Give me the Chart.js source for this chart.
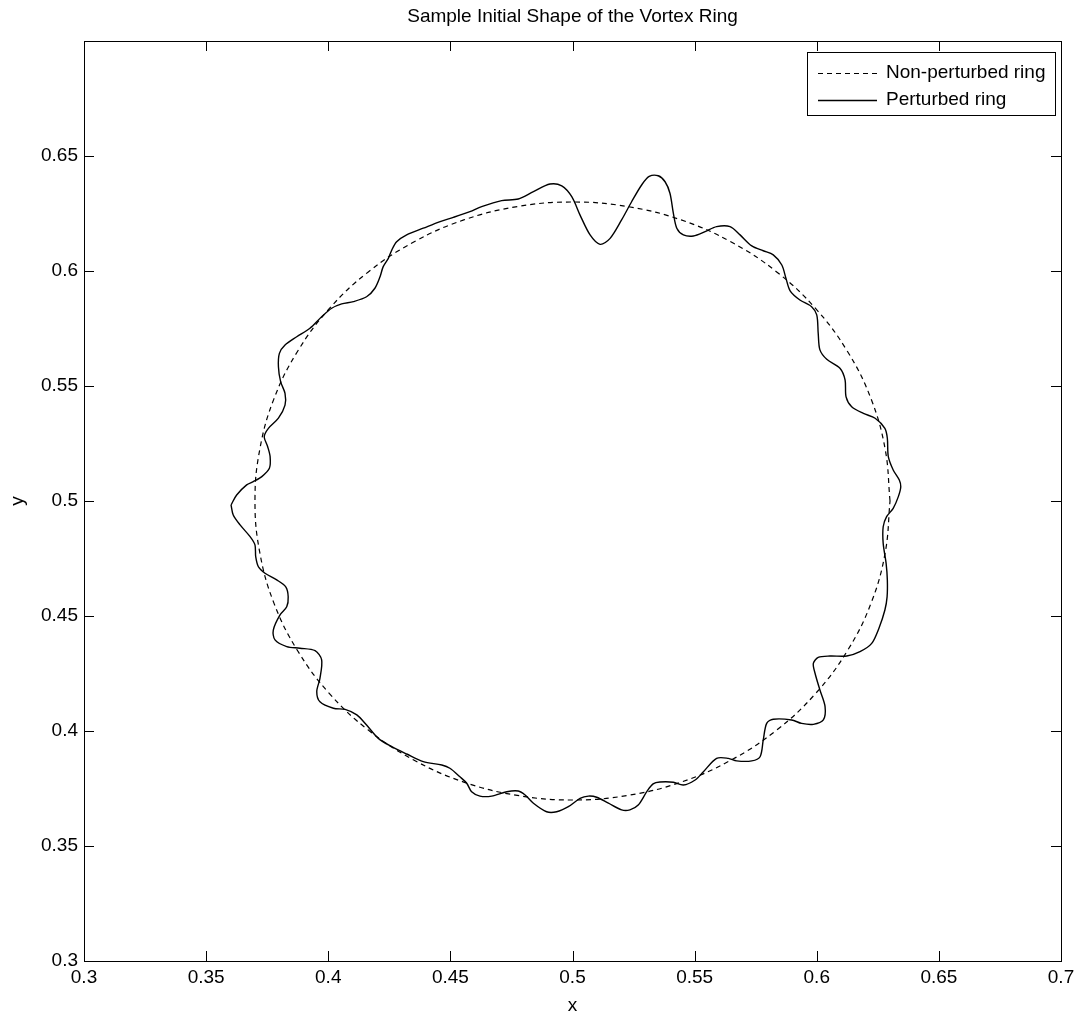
<!DOCTYPE html>
<html>
<head>
<meta charset="utf-8">
<title>Sample Initial Shape of the Vortex Ring</title>
<script src="https://cdn.jsdelivr.net/npm/chart.js@4.4.1/dist/chart.umd.min.js"></script>
<style>
  body { margin: 0; background: #fff; }
</style>
</head>
<body>
<canvas id="ringChart" width="1085" height="1017"></canvas>
<script>
// unperturbed ring, centre (0.5, 0.5), radius 0.13, every 10 degrees
var ringX = [0.63, 0.628, 0.6222, 0.6126, 0.5996, 0.5836, 0.565, 0.5445, 0.5226, 0.5,
             0.4774, 0.4555, 0.435, 0.4164, 0.4004, 0.3874, 0.3778, 0.372, 0.37,
             0.372, 0.3778, 0.3874, 0.4004, 0.4164, 0.435, 0.4555, 0.4774, 0.5,
             0.5226, 0.5445, 0.565, 0.5836, 0.5996, 0.6126, 0.6222, 0.628, 0.63];
var ringY = [0.5, 0.5226, 0.5445, 0.565, 0.5836, 0.5996, 0.6126, 0.6222, 0.628, 0.63,
             0.628, 0.6222, 0.6126, 0.5996, 0.5836, 0.565, 0.5445, 0.5226, 0.5,
             0.4774, 0.4555, 0.435, 0.4164, 0.4004, 0.3874, 0.3778, 0.372, 0.37,
             0.372, 0.3778, 0.3874, 0.4004, 0.4164, 0.435, 0.4555, 0.4774, 0.5];

// perturbed ring, traced clockwise from the leftmost bulge
var perturbedX = [
  0.3602, 0.3625, 0.3666, 0.3693, 0.3728, 0.3759, 0.3762, 0.3752, 0.3738, 0.3755,
  0.3796, 0.3823, 0.3823, 0.3805, 0.3796, 0.3800, 0.3823, 0.3871, 0.3925, 0.3973,
  0.4014, 0.4055, 0.4103, 0.4157, 0.4191, 0.4212, 0.4225, 0.4246, 0.4260, 0.4280,
  0.4321, 0.4389, 0.4458, 0.4512, 0.4580, 0.4628, 0.4710, 0.4778, 0.4840, 0.4908,
  0.4956, 0.4997, 0.5031, 0.5072, 0.5113, 0.5154, 0.5201, 0.5242, 0.5283, 0.5314,
  0.5351, 0.5379, 0.5399, 0.5413, 0.5427, 0.5454, 0.5495, 0.5543, 0.5590, 0.5645,
  0.5686, 0.5734, 0.5781, 0.5822, 0.5857, 0.5874, 0.5891, 0.5931, 0.5979, 0.6000,
  0.6006, 0.6013, 0.6041, 0.6095, 0.6116, 0.6120, 0.6143, 0.6191, 0.6239, 0.6279,
  0.6289, 0.6293, 0.6313, 0.6338, 0.6344, 0.6334, 0.6313, 0.6286, 0.6272, 0.6272,
  0.6284, 0.6289, 0.6288, 0.6279, 0.6255, 0.6225, 0.6177, 0.6123, 0.6054, 0.6006,
  0.5986, 0.5993, 0.6013, 0.6034, 0.6027, 0.5986, 0.5938, 0.5897, 0.5822, 0.5795,
  0.5781, 0.5768, 0.5734, 0.5672, 0.5638, 0.5590, 0.5536, 0.5502, 0.5454, 0.5413,
  0.5358, 0.5330, 0.5304, 0.5269, 0.5235, 0.5201, 0.5147, 0.5099, 0.5065, 0.5031,
  0.4983, 0.4935, 0.4894, 0.4840, 0.4806, 0.4778, 0.4731, 0.4669, 0.4621, 0.4587,
  0.4567, 0.4539, 0.4498, 0.4465, 0.4389, 0.4321, 0.4260, 0.4205, 0.4157, 0.4117,
  0.4069, 0.4021, 0.3966, 0.3953, 0.3966, 0.3973, 0.3946, 0.3884, 0.3830, 0.3782,
  0.3775, 0.3802, 0.3830, 0.3836, 0.3826, 0.3789, 0.3741, 0.3714, 0.3703, 0.3700,
  0.3680, 0.3639, 0.3611, 0.3602];
var perturbedY = [
  0.4983, 0.5026, 0.5070, 0.5084, 0.5106, 0.5142, 0.5193, 0.5236, 0.5280, 0.5316,
  0.5360, 0.5417, 0.5468, 0.5519, 0.5584, 0.5642, 0.5678, 0.5714, 0.5751, 0.5801,
  0.5838, 0.5857, 0.5867, 0.5888, 0.5925, 0.5975, 0.6019, 0.6055, 0.6091, 0.6127,
  0.6157, 0.6186, 0.6215, 0.6233, 0.6258, 0.6280, 0.6306, 0.6313, 0.6345, 0.6378,
  0.6370, 0.6323, 0.6243, 0.6157, 0.6116, 0.6142, 0.6222, 0.6301, 0.6374, 0.6411,
  0.6414, 0.6388, 0.6338, 0.6251, 0.6186, 0.6157, 0.6152, 0.6171, 0.6193, 0.6193,
  0.6157, 0.6109, 0.6088, 0.6070, 0.6026, 0.5968, 0.5914, 0.5874, 0.5845, 0.5809,
  0.5729, 0.5657, 0.5616, 0.5577, 0.5526, 0.5453, 0.5410, 0.5381, 0.5360, 0.5316,
  0.5273, 0.5193, 0.5135, 0.5091, 0.5062, 0.5019, 0.4968, 0.4932, 0.4888, 0.4816,
  0.4729, 0.4657, 0.4583, 0.4526, 0.4448, 0.4381, 0.4345, 0.4326, 0.4326, 0.4320,
  0.4294, 0.4251, 0.4178, 0.4106, 0.4048, 0.4029, 0.4033, 0.4048, 0.4051, 0.4033,
  0.3961, 0.3888, 0.3870, 0.3870, 0.3881, 0.3881, 0.3823, 0.3787, 0.3765, 0.3777,
  0.3778, 0.3770, 0.3736, 0.3678, 0.3657, 0.3657, 0.3686, 0.3712, 0.3717, 0.3707,
  0.3671, 0.3649, 0.3649, 0.3686, 0.3722, 0.3739, 0.3736, 0.3717, 0.3717, 0.3736,
  0.3773, 0.3801, 0.3838, 0.3852, 0.3867, 0.3900, 0.3932, 0.3968, 0.4026, 0.4070,
  0.4094, 0.4099, 0.4127, 0.4171, 0.4229, 0.4309, 0.4349, 0.4360, 0.4367, 0.4396,
  0.4439, 0.4504, 0.4540, 0.4584, 0.4627, 0.4657, 0.4686, 0.4714, 0.4758, 0.4809,
  0.4845, 0.4896, 0.4939, 0.4983];

// axis ticks
var xTicks = [0.3, 0.35, 0.4, 0.45, 0.5, 0.55, 0.6, 0.65, 0.7];
var xTickLabels = ['0.3', '0.35', '0.4', '0.45', '0.5', '0.55', '0.6', '0.65', '0.7'];
var yTicks = [0.3, 0.35, 0.4, 0.45, 0.5, 0.55, 0.6, 0.65];
var yTickLabels = ['0.3', '0.35', '0.4', '0.45', '0.5', '0.55', '0.6', '0.65'];

var chartTitle = 'Sample Initial Shape of the Vortex Ring';
var FONT = '"Liberation Sans", Arial, sans-serif';

function toPoints(xs, ys) {
    return xs.map(function(x, i) { return { x: x, y: ys[i] }; });
}

// box, inward tick marks on all four sides, title and the boxed legend
var framePlugin = {
    id: 'frame',
    afterDraw: function(chart) {
        var ctx = chart.ctx;
        var a = chart.chartArea;
        var sx = chart.scales.x, sy = chart.scales.y;
        var tick = 10;

        ctx.save();
        ctx.strokeStyle = '#000';
        ctx.lineWidth = 1;
        ctx.setLineDash([]);
        ctx.strokeRect(a.left + 0.5, a.top + 0.5, a.right - a.left, a.bottom - a.top);

        ctx.beginPath();
        xTicks.forEach(function(v) {
            var px = Math.round(sx.getPixelForValue(v)) + 0.5;
            ctx.moveTo(px, a.bottom);
            ctx.lineTo(px, a.bottom - tick);
            ctx.moveTo(px, a.top);
            ctx.lineTo(px, a.top + tick);
        });
        yTicks.concat([sy.max]).forEach(function(v) {
            var py = Math.round(sy.getPixelForValue(v)) + 0.5;
            ctx.moveTo(a.left, py);
            ctx.lineTo(a.left + tick, py);
            ctx.moveTo(a.right, py);
            ctx.lineTo(a.right - tick, py);
        });
        ctx.stroke();

        // title
        ctx.fillStyle = '#000';
        ctx.font = '19px ' + FONT;
        ctx.textAlign = 'center';
        ctx.textBaseline = 'middle';
        ctx.fillText(chartTitle, (a.left + a.right) / 2, 17);

        // legend
        var bx = a.right - 254, by = a.top + 11, bw = 248, bh = 63;
        ctx.fillStyle = '#fff';
        ctx.fillRect(bx, by, bw, bh);
        ctx.strokeRect(bx + 0.5, by + 0.5, bw, bh);
        chart.data.datasets.forEach(function(ds, i) {
            var ly = by + 21 + i * 27;
            ctx.beginPath();
            ctx.lineWidth = ds.borderWidth;
            ctx.setLineDash(ds.borderDash || []);
            ctx.moveTo(bx + 11, ly + 0.5);
            ctx.lineTo(bx + 70, ly + 0.5);
            ctx.stroke();
            ctx.setLineDash([]);
            ctx.fillStyle = '#000';
            ctx.textAlign = 'left';
            ctx.fillText(ds.label, bx + 79, ly);
        });
        ctx.restore();
    }
};

var ctx = document.getElementById('ringChart').getContext('2d');

var ringChart = new Chart(ctx, {
    type: 'scatter',
    data: {
        datasets: [{
            label: 'Non-perturbed ring',
            data: toPoints(ringX, ringY),
            showLine: true,
            borderColor: '#000',
            borderWidth: 1.2,
            borderDash: [5, 4],
            tension: 0.4,
            pointRadius: 0,
            fill: false
        }, {
            label: 'Perturbed ring',
            data: toPoints(perturbedX, perturbedY),
            showLine: true,
            borderColor: '#000',
            borderWidth: 1.4,
            tension: 0.3,
            pointRadius: 0,
            fill: false
        }]
    },
    options: {
        responsive: false,
        animation: false,
        layout: { padding: { left: 0, top: 41, right: 24, bottom: 0 } },
        plugins: {
            legend: { display: false },
            title: { display: false },
            tooltip: { enabled: false }
        },
        scales: {
            x: {
                type: 'linear',
                min: 0.3,
                max: 0.7,
                afterBuildTicks: function(scale) {
                    scale.ticks = xTicks.map(function(v) { return { value: v }; });
                },
                afterFit: function(scale) { scale.height = 56; },
                grid: { display: false, drawTicks: false },
                border: { display: false },
                ticks: {
                    autoSkip: false,
                    maxRotation: 0,
                    padding: 5,
                    color: '#000',
                    font: { family: FONT, size: 19 },
                    callback: function(value, index) { return xTickLabels[index]; }
                },
                title: {
                    display: true,
                    text: 'x',
                    color: '#000',
                    font: { family: FONT, size: 19 },
                    padding: { top: 4, bottom: 0 }
                }
            },
            y: {
                type: 'linear',
                min: 0.3,
                max: 0.7,
                afterBuildTicks: function(scale) {
                    scale.ticks = yTicks.map(function(v) { return { value: v }; });
                },
                afterFit: function(scale) { scale.width = 84; },
                grid: { display: false, drawTicks: false },
                border: { display: false },
                ticks: {
                    autoSkip: false,
                    padding: 6,
                    color: '#000',
                    font: { family: FONT, size: 19 },
                    callback: function(value, index) { return yTickLabels[index]; }
                },
                title: {
                    display: true,
                    text: 'y',
                    color: '#000',
                    font: { family: FONT, size: 19 },
                    padding: { top: 6, bottom: 0 }
                }
            }
        }
    },
    plugins: [framePlugin]
});
</script>
</body>
</html>
